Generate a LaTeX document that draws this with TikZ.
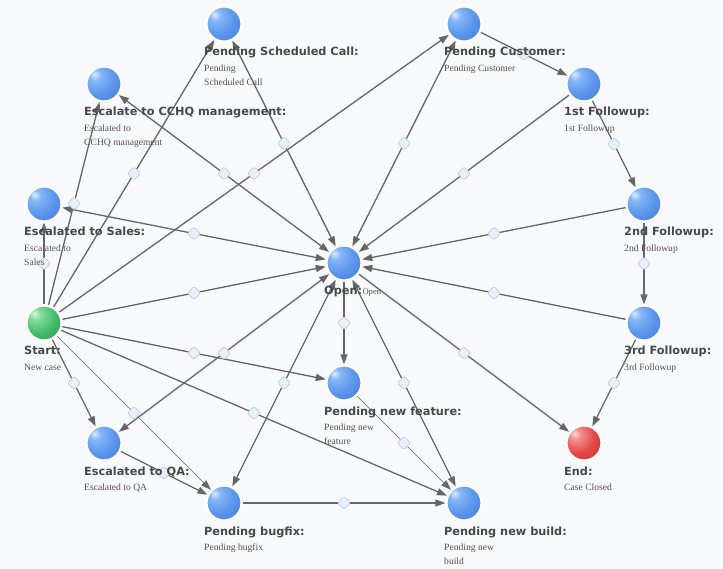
\documentclass[tikz,border=0pt]{standalone}
\usepackage{fontspec}
\setmainfont{Liberation Serif}
\newfontfamily\ttlfont{DejaVu Sans}
\usetikzlibrary{arrows.meta}
\definecolor{bgc}{RGB}{248,250,253}
\definecolor{edgec}{RGB}{102,102,102}
\definecolor{mkf}{RGB}{232,240,252}
\definecolor{mkd}{RGB}{188,206,234}
\definecolor{ttlc}{RGB}{72,72,72}
\definecolor{dscc}{RGB}{88,80,76}
\definecolor{bA}{RGB}{222,236,255}
\definecolor{bB}{RGB}{132,182,246}
\definecolor{bC}{RGB}{92,150,236}
\definecolor{bD}{RGB}{70,122,212}
\definecolor{bE}{RGB}{42,86,160}
\definecolor{gA}{RGB}{215,248,222}
\definecolor{gB}{RGB}{130,220,155}
\definecolor{gC}{RGB}{70,188,108}
\definecolor{gD}{RGB}{40,150,80}
\definecolor{gE}{RGB}{22,105,52}
\definecolor{rA}{RGB}{252,220,220}
\definecolor{rB}{RGB}{242,140,140}
\definecolor{rC}{RGB}{228,72,72}
\definecolor{rD}{RGB}{200,45,45}
\definecolor{rE}{RGB}{150,25,25}
\pgfdeclareradialshading{bluesph}{\pgfqpoint{-14bp}{14bp}}{color(0bp)=(bA); color(8bp)=(bB); color(24bp)=(bC); color(44bp)=(bD); color(62bp)=(bE); color(75bp)=(bE)}
\pgfdeclareradialshading{greensph}{\pgfqpoint{-14bp}{14bp}}{color(0bp)=(gA); color(8bp)=(gB); color(24bp)=(gC); color(44bp)=(gD); color(62bp)=(gE); color(75bp)=(gE)}
\pgfdeclareradialshading{redsph}{\pgfqpoint{-14bp}{14bp}}{color(0bp)=(rA); color(8bp)=(rB); color(24bp)=(rC); color(44bp)=(rD); color(62bp)=(rE); color(75bp)=(rE)}
\pgfdeclarelayer{back}
\pgfdeclarelayer{edgelayer}
\pgfsetlayers{back,edgelayer,main}
\begin{document}
\begin{tikzpicture}[x=1pt,y=-1pt,
  sph/.style={circle, minimum size=35pt, inner sep=0pt, draw=white, line width=2.2pt, shading=bluesph},
  conn/.style={draw=edgec, line width=1.3pt, -{Triangle[length=10pt,width=7pt]}},
  thinedge/.style={line width=0.7pt},
  both/.style={conn, {Triangle[length=10pt,width=7pt]}-{Triangle[length=10pt,width=7pt]}},
  marker/.style={draw=mkd, fill=mkf, rectangle, rounded corners=2.5pt, minimum size=9.5pt, inner sep=0pt, rotate=45, line width=0.7pt},
  ttl/.style={font=\ttlfont\bfseries\fontsize{11.3}{13}\selectfont, text=ttlc, inner sep=0pt, anchor=base west},
  dsc/.style={font=\fontsize{9.6}{14}\selectfont, text=dscc, inner sep=0pt, anchor=base west, align=left}]
\begin{pgfonlayer}{back}
\fill[bgc] (0,0) rectangle (723,569);
\end{pgfonlayer}
\useasboundingbox (0,0) rectangle (723,569);
% nodes
\node[sph] (psc) at (224,24) {};
\node[sph] (cchq) at (104,84) {};
\node[sph] (sales) at (44,204) {};
\node[sph, shading=greensph] (start) at (44,323) {};
\node[sph] (qa) at (104,443) {};
\node[sph] (bug) at (224,503) {};
\node[sph] (pnb) at (464,503) {};
\node[sph] (pnf) at (344,383) {};
\node[sph, shading=redsph] (endn) at (584,443) {};
\node[sph] (f3) at (644,323) {};
\node[sph] (f2) at (644,204) {};
\node[sph] (f1) at (584,84) {};
\node[sph] (pc) at (464,24) {};
\node[sph] (open) at (344,263) {};
% edges
\begin{pgfonlayer}{edgelayer}
\draw[conn] (start) -- coordinate (m1) (sales);
\draw[conn] (start) -- coordinate (m2) (cchq);
\draw[conn] (start) -- coordinate (m3) (psc);
\draw[conn] (start) -- coordinate (m4) (pc);
\draw[conn] (start) -- coordinate (m5) (open);
\draw[conn] (start) -- coordinate (m6) (pnf);
\draw[conn] (start) -- coordinate (m7) (pnb);
\draw[conn,thinedge] (start) -- coordinate (m8) (bug);
\draw[conn] (start) -- coordinate (m9) (qa);
\draw[both] (open) -- coordinate (m10) (cchq);
\draw[both] (open) -- coordinate (m11) (sales);
\draw[both] (open) -- coordinate (m12) (psc);
\draw[both] (open) -- coordinate (m13) (pc);
\draw[conn] (f1) -- coordinate (m14) (open);
\draw[conn] (f2) -- coordinate (m15) (open);
\draw[conn] (f3) -- coordinate (m16) (open);
\draw[conn] (open) -- coordinate (m17) (endn);
\draw[both] (open) -- coordinate (m18) (pnb);
\draw[conn] (open) -- coordinate (m19) (pnf);
\draw[both] (open) -- coordinate (m20) (bug);
\draw[both] (open) -- coordinate (m21) (qa);
\draw[conn] (pc) -- coordinate (m22) (f1);
\draw[conn] (f1) -- coordinate (m23) (f2);
\draw[conn] (f2) -- coordinate (m24) (f3);
\draw[conn] (f3) -- coordinate (m25) (endn);
\draw[conn] (qa) -- coordinate (m26) (bug);
\draw[conn] (bug) -- coordinate (m27) (pnb);
\draw[conn,thinedge] (pnf) -- coordinate (m28) (pnb);
\end{pgfonlayer}
\foreach \m in {1,...,28} \node[marker] at (m\m) {};
% labels
\node[ttl] (psc-t) at (204,56) {Pending Scheduled Call:};
\node[dsc] (psc-d) at (204,85.5) {Pending\\Scheduled Call};
\node[ttl] (cchq-t) at (84,116) {Escalate to CCHQ management:};
\node[dsc] (cchq-d) at (84,145.5) {Escalated to\\CCHQ management};
\node[ttl] (sales-t) at (24,236) {Escalated to Sales:};
\node[dsc] (sales-d) at (24,265.5) {Escalated to\\Sales};
\node[ttl] (start-t) at (24,355) {Start:};
\node[dsc] (start-d) at (24,370.5) {New case};
\node[ttl] (qa-t) at (84,475) {Escalated to QA:};
\node[dsc] (qa-d) at (84,490.5) {Escalated to QA};
\node[ttl] (bug-t) at (204,535) {Pending bugfix:};
\node[dsc] (bug-d) at (204,550.5) {Pending bugfix};
\node[ttl] (pnb-t) at (444,535) {Pending new build:};
\node[dsc] (pnb-d) at (444,564.5) {Pending new\\build};
\node[ttl] (pnf-t) at (324,415) {Pending new feature:};
\node[dsc] (pnf-d) at (324,444.5) {Pending new\\feature};
\node[ttl] (end-t) at (564,475) {End:};
\node[dsc] (end-d) at (564,490.5) {Case Closed};
\node[ttl] (f3-t) at (624,355) {3rd Followup:};
\node[dsc] (f3-d) at (624,370.5) {3rd Followup};
\node[ttl] (f2-t) at (624,236) {2nd Followup:};
\node[dsc] (f2-d) at (624,251.5) {2nd Followup};
\node[ttl] (f1-t) at (564,116) {1st Followup:};
\node[dsc] (f1-d) at (564,131.5) {1st Followup};
\node[ttl] (pc-t) at (444,56) {Pending Customer:};
\node[dsc] (pc-d) at (444,71.5) {Pending Customer};
\node[ttl] (open-t) at (324,295) {Open:};
\node[dsc, font=\fontsize{8.6}{10}\selectfont] (open-d) at (open-t.base east) {Open};
\end{tikzpicture}
\end{document}
